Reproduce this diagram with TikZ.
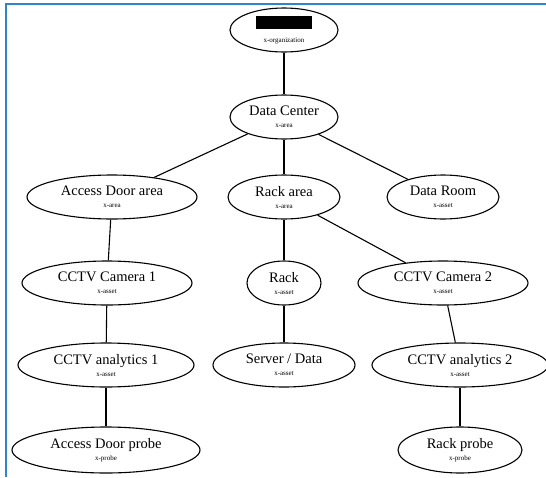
\documentclass[tikz,border=0pt]{standalone}
\usepackage{fontspec}
\setmainfont{Liberation Serif}
\usetikzlibrary{shapes.geometric}
\definecolor{frameblue}{HTML}{2E86C8}
\tikzset{
  ell/.style args={#1/#2}{ellipse, draw=black, line width=1.1pt, inner sep=0pt,
    minimum width=#1pt, minimum height=#2pt, align=center, font=\fontsize{14.5}{15}\selectfont},
  edge/.style={draw=black, line width=1.1pt},
}
\newcommand{\sub}[1]{\\[-3pt]{\fontsize{7}{7.5}\selectfont #1}}
\begin{document}
\begin{tikzpicture}[x=1pt,y=-1pt]
\useasboundingbox (0,0) rectangle (546,477);
\fill[white] (0,0) rectangle (546,477);
\draw[frameblue, line width=2pt] (6,477) -- (6,4) -- (546,4);

\node[ell=108/44] (org) at (284,30) {\rule{56pt}{13pt}\\[-2pt]{\fontsize{7}{7.5}\selectfont x-organization}};
\node[ell=108/44] (dc) at (284,117) {Data Center\sub{x-area}};
\node[ell=170/44] (ada) at (112,197) {Access Door area\sub{x-area}};
\node[ell=112/44] (ra) at (284,197) {Rack area\sub{x-area}};
\node[ell=112/44] (dr) at (443,197) {Data Room\sub{x-asset}};
\node[ell=170/44] (cam1) at (107,283) {CCTV Camera 1\sub{x-asset}};
\node[ell=74/44] (rack) at (284,283) {Rack\sub{x-asset}};
\node[ell=170/44] (cam2) at (443,283) {CCTV Camera 2\sub{x-asset}};
\node[ell=176/44] (an1) at (106,365) {CCTV analytics 1\sub{x-asset}};
\node[ell=142/44] (srv) at (284,365) {Server / Data\sub{x-asset}};
\node[ell=176/44] (an2) at (460,365) {CCTV analytics 2\sub{x-asset}};
\node[ell=188/46] (adp) at (106,450) {Access Door probe\sub{x-probe}};
\node[ell=124/46] (rp) at (460,450) {Rack probe\sub{x-probe}};

\draw[edge] (org) -- (dc);
\draw[edge] (dc) -- (ada);
\draw[edge] (dc) -- (ra);
\draw[edge] (dc) -- (dr);
\draw[edge] (ada) -- (cam1);
\draw[edge] (cam1) -- (an1);
\draw[edge] (an1) -- (adp);
\draw[edge] (ra) -- (rack);
\draw[edge] (ra) -- (cam2);
\draw[edge] (rack) -- (srv);
\draw[edge] (cam2) -- (an2);
\draw[edge] (an2) -- (rp);
\end{tikzpicture}
\end{document}
